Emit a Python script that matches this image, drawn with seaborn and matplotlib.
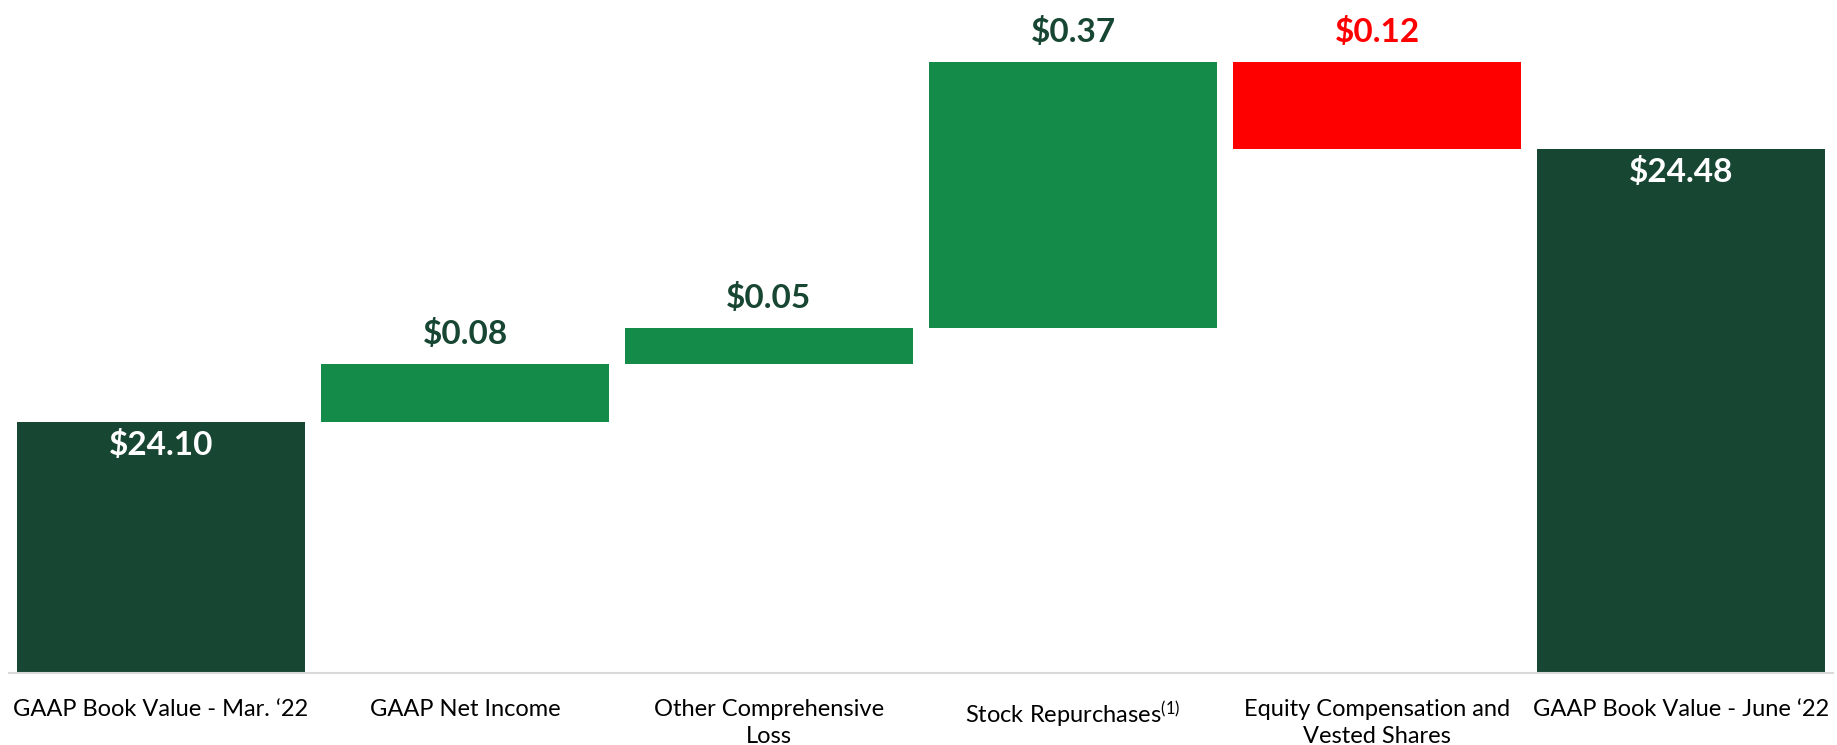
import pandas as pd
import matplotlib.pyplot as plt
import seaborn as sns
from matplotlib.ticker import FixedLocator

# waterfall data
steps = ["GAAP Book Value - Mar. \u201822", "GAAP Net Income", "Other Comprehensive\nLoss",
         "Stock Repurchases$^{(1)}$", "Equity Compensation and\nVested Shares",
         "GAAP Book Value - June \u201822"]
changes = [24.10, 0.08, 0.05, 0.37, -0.12, 24.48]
kinds = ["total", "up", "up", "up", "down", "total"]
value_labels = ["$24.10", "$0.08", "$0.05", "$0.37", "$0.12", "$24.48"]

DARK = "#174632"
GREEN = "#158B4A"
RED = "#FF0000"
colors = {"total": DARK, "up": GREEN, "down": RED}

# cumulative positions
bottoms, heights, level = [], [], 0.0
for c, k in zip(changes, kinds):
    if k == "total":
        bottoms.append(0.0)
        heights.append(c)
        level = c
    else:
        new = level + c
        bottoms.append(min(level, new))
        heights.append(abs(c))
        level = new

df = pd.DataFrame({"step": steps, "height": heights, "bottom": bottoms, "kind": kinds})

sns.set_style("white")
plt.rcParams["font.family"] = ["Lato", "DejaVu Sans"]
plt.rcParams["mathtext.default"] = "regular"

fig = plt.figure(figsize=(18.37, 7.45), dpi=100)
ax = fig.add_axes([9 / 1837, 72 / 745, 1824 / 1837, 673 / 745])

sns.barplot(data=df, x="step", y="height", bottom=df["bottom"].values, width=0.95,
            color=GREEN, saturation=1, errorbar=None, ax=ax)
for patch, k in zip(ax.patches, df["kind"]):
    patch.set_facecolor(colors[k])
    patch.set_edgecolor("none")

ax.set_ylim(23.75, 24.687)
ax.set_xlim(-0.5, len(steps) - 0.5)

# value labels
for i, row in df.iterrows():
    top = row["bottom"] + row["height"]
    if row["kind"] == "total":
        ax.annotate(value_labels[i], (i, top), xytext=(0, -17), textcoords="offset points",
                    ha="center", va="center", color="white", fontsize=24, fontweight="bold")
    else:
        c = RED if row["kind"] == "down" else DARK
        ax.annotate(value_labels[i], (i, top), xytext=(0, 22), textcoords="offset points",
                    ha="center", va="center", color=c, fontsize=24, fontweight="bold")

for s in ["top", "right", "left"]:
    ax.spines[s].set_visible(False)
ax.spines["bottom"].set_color("#D9D9D9")
ax.spines["bottom"].set_linewidth(1.5)
ax.set_yticks([])
ax.set_xlabel("")
ax.set_ylabel("")
ax.xaxis.set_minor_locator(FixedLocator([i - 0.5 for i in range(len(steps) + 1)]))
ax.tick_params(axis="x", which="minor", length=6, width=1.5, color="#D9D9D9", direction="out")
ax.tick_params(axis="x", which="major", length=0, pad=19, labelsize=17, labelcolor="black")
for t in ax.get_xticklabels():
    t.set_linespacing(1.35)

fig.savefig("out.png", dpi=100)
plt.close(fig)
